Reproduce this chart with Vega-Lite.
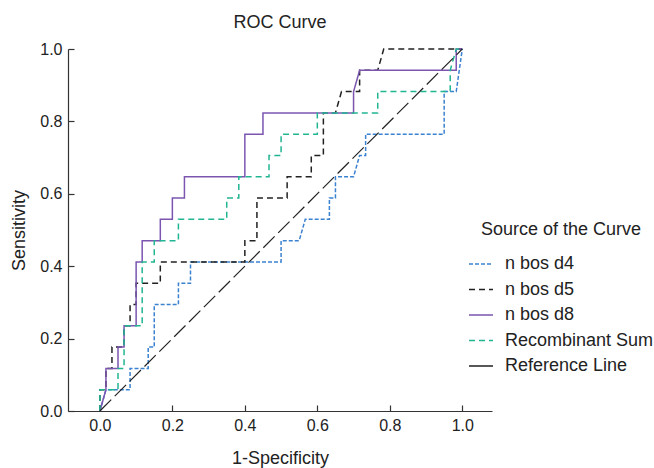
{
  "$schema": "https://vega.github.io/schema/vega-lite/v6.json",
  "width": 424,
  "height": 362,
  "autosize": "none",
  "padding": {"left": 68, "top": 49, "right": 162, "bottom": 57},
  "background": "white",
  "config": {
    "font": "Liberation Sans",
    "view": {"stroke": null},
    "axis": {"grid": false, "domainColor": "#333", "tickColor": "#333", "labelColor": "#222", "titleColor": "#222", "labelFontSize": 16, "titleFontSize": 18, "titleFontWeight": "normal", "tickSize": -6, "labelPadding": 12, "domainWidth": 1.2, "tickWidth": 1.2}
  },
  "title": {"text": "ROC Curve", "fontSize": 18, "fontWeight": "normal", "color": "#222", "anchor": "middle", "offset": 9},
  "layer": [
    {
      "data": {"values": [
        {"s":"n bos d4","i":0,"x":0,"y":0},{"s":"n bos d4","i":1,"x":0.0167,"y":0.0588},{"s":"n bos d4","i":2,"x":0.0833,"y":0.0588},{"s":"n bos d4","i":3,"x":0.0833,"y":0.1176},{"s":"n bos d4","i":4,"x":0.1333,"y":0.1176},{"s":"n bos d4","i":5,"x":0.1333,"y":0.1765},{"s":"n bos d4","i":6,"x":0.15,"y":0.1765},{"s":"n bos d4","i":7,"x":0.15,"y":0.2941},{"s":"n bos d4","i":8,"x":0.2167,"y":0.2941},{"s":"n bos d4","i":9,"x":0.2167,"y":0.3529},{"s":"n bos d4","i":10,"x":0.25,"y":0.3529},{"s":"n bos d4","i":11,"x":0.25,"y":0.4118},{"s":"n bos d4","i":12,"x":0.5,"y":0.4118},{"s":"n bos d4","i":13,"x":0.5,"y":0.4706},{"s":"n bos d4","i":14,"x":0.55,"y":0.4706},{"s":"n bos d4","i":15,"x":0.5667,"y":0.5294},{"s":"n bos d4","i":16,"x":0.6333,"y":0.5294},{"s":"n bos d4","i":17,"x":0.6333,"y":0.5882},{"s":"n bos d4","i":18,"x":0.65,"y":0.5882},{"s":"n bos d4","i":19,"x":0.65,"y":0.6471},{"s":"n bos d4","i":20,"x":0.7,"y":0.6471},{"s":"n bos d4","i":21,"x":0.7167,"y":0.7059},{"s":"n bos d4","i":22,"x":0.7333,"y":0.7059},{"s":"n bos d4","i":23,"x":0.7333,"y":0.7647},{"s":"n bos d4","i":24,"x":0.95,"y":0.7647},{"s":"n bos d4","i":25,"x":0.95,"y":0.8824},{"s":"n bos d4","i":26,"x":0.9833,"y":0.8824},{"s":"n bos d4","i":27,"x":1,"y":1},
        {"s":"n bos d5","i":0,"x":0,"y":0},{"s":"n bos d5","i":1,"x":0,"y":0.0588},{"s":"n bos d5","i":2,"x":0.0167,"y":0.0588},{"s":"n bos d5","i":3,"x":0.0167,"y":0.1176},{"s":"n bos d5","i":4,"x":0.0333,"y":0.1176},{"s":"n bos d5","i":5,"x":0.0333,"y":0.1765},{"s":"n bos d5","i":6,"x":0.0667,"y":0.1765},{"s":"n bos d5","i":7,"x":0.0667,"y":0.2353},{"s":"n bos d5","i":8,"x":0.0833,"y":0.2353},{"s":"n bos d5","i":9,"x":0.0833,"y":0.2941},{"s":"n bos d5","i":10,"x":0.1,"y":0.2941},{"s":"n bos d5","i":11,"x":0.1,"y":0.3529},{"s":"n bos d5","i":12,"x":0.1667,"y":0.3529},{"s":"n bos d5","i":13,"x":0.1667,"y":0.4118},{"s":"n bos d5","i":14,"x":0.4,"y":0.4118},{"s":"n bos d5","i":15,"x":0.4,"y":0.4706},{"s":"n bos d5","i":16,"x":0.4333,"y":0.4706},{"s":"n bos d5","i":17,"x":0.4333,"y":0.5882},{"s":"n bos d5","i":18,"x":0.5167,"y":0.5882},{"s":"n bos d5","i":19,"x":0.5167,"y":0.6471},{"s":"n bos d5","i":20,"x":0.5833,"y":0.6471},{"s":"n bos d5","i":21,"x":0.5833,"y":0.7059},{"s":"n bos d5","i":22,"x":0.6167,"y":0.7059},{"s":"n bos d5","i":23,"x":0.6167,"y":0.8235},{"s":"n bos d5","i":24,"x":0.65,"y":0.8235},{"s":"n bos d5","i":25,"x":0.6667,"y":0.8824},{"s":"n bos d5","i":26,"x":0.7167,"y":0.8824},{"s":"n bos d5","i":27,"x":0.7167,"y":0.9412},{"s":"n bos d5","i":28,"x":0.7667,"y":0.9412},{"s":"n bos d5","i":29,"x":0.7833,"y":1},{"s":"n bos d5","i":30,"x":1,"y":1},
        {"s":"n bos d8","i":0,"x":0,"y":0},{"s":"n bos d8","i":1,"x":0.0167,"y":0.0588},{"s":"n bos d8","i":2,"x":0.0167,"y":0.1176},{"s":"n bos d8","i":3,"x":0.05,"y":0.1176},{"s":"n bos d8","i":4,"x":0.05,"y":0.1765},{"s":"n bos d8","i":5,"x":0.0667,"y":0.1765},{"s":"n bos d8","i":6,"x":0.0667,"y":0.2353},{"s":"n bos d8","i":7,"x":0.1,"y":0.2353},{"s":"n bos d8","i":8,"x":0.1,"y":0.4118},{"s":"n bos d8","i":9,"x":0.1167,"y":0.4118},{"s":"n bos d8","i":10,"x":0.1167,"y":0.4706},{"s":"n bos d8","i":11,"x":0.1667,"y":0.4706},{"s":"n bos d8","i":12,"x":0.1667,"y":0.5294},{"s":"n bos d8","i":13,"x":0.2,"y":0.5294},{"s":"n bos d8","i":14,"x":0.2,"y":0.5882},{"s":"n bos d8","i":15,"x":0.2333,"y":0.5882},{"s":"n bos d8","i":16,"x":0.2333,"y":0.6471},{"s":"n bos d8","i":17,"x":0.4,"y":0.6471},{"s":"n bos d8","i":18,"x":0.4,"y":0.7647},{"s":"n bos d8","i":19,"x":0.45,"y":0.7647},{"s":"n bos d8","i":20,"x":0.45,"y":0.8235},{"s":"n bos d8","i":21,"x":0.7,"y":0.8235},{"s":"n bos d8","i":22,"x":0.7,"y":0.8824},{"s":"n bos d8","i":23,"x":0.7167,"y":0.9412},{"s":"n bos d8","i":24,"x":0.9833,"y":0.9412},{"s":"n bos d8","i":25,"x":0.9833,"y":1},{"s":"n bos d8","i":26,"x":1,"y":1},
        {"s":"Recombinant Sum","i":0,"x":0,"y":0},{"s":"Recombinant Sum","i":1,"x":0,"y":0.0588},{"s":"Recombinant Sum","i":2,"x":0.05,"y":0.0588},{"s":"Recombinant Sum","i":3,"x":0.05,"y":0.1176},{"s":"Recombinant Sum","i":4,"x":0.0667,"y":0.1176},{"s":"Recombinant Sum","i":5,"x":0.0667,"y":0.2353},{"s":"Recombinant Sum","i":6,"x":0.1167,"y":0.2353},{"s":"Recombinant Sum","i":7,"x":0.1167,"y":0.4118},{"s":"Recombinant Sum","i":8,"x":0.15,"y":0.4118},{"s":"Recombinant Sum","i":9,"x":0.15,"y":0.4706},{"s":"Recombinant Sum","i":10,"x":0.2167,"y":0.4706},{"s":"Recombinant Sum","i":11,"x":0.2167,"y":0.5294},{"s":"Recombinant Sum","i":12,"x":0.35,"y":0.5294},{"s":"Recombinant Sum","i":13,"x":0.35,"y":0.5882},{"s":"Recombinant Sum","i":14,"x":0.3833,"y":0.5882},{"s":"Recombinant Sum","i":15,"x":0.3833,"y":0.6471},{"s":"Recombinant Sum","i":16,"x":0.4667,"y":0.6471},{"s":"Recombinant Sum","i":17,"x":0.4667,"y":0.7059},{"s":"Recombinant Sum","i":18,"x":0.5,"y":0.7059},{"s":"Recombinant Sum","i":19,"x":0.5,"y":0.7647},{"s":"Recombinant Sum","i":20,"x":0.6,"y":0.7647},{"s":"Recombinant Sum","i":21,"x":0.6,"y":0.8235},{"s":"Recombinant Sum","i":22,"x":0.7667,"y":0.8235},{"s":"Recombinant Sum","i":23,"x":0.7667,"y":0.8824},{"s":"Recombinant Sum","i":24,"x":0.9667,"y":0.8824},{"s":"Recombinant Sum","i":25,"x":0.9667,"y":0.9412},{"s":"Recombinant Sum","i":26,"x":0.9833,"y":1},{"s":"Recombinant Sum","i":27,"x":1,"y":1}
      ]},
      "mark": {"type": "line", "strokeWidth": 1.5},
      "encoding": {
        "x": {"field": "x", "type": "quantitative", "scale": {"domain": [-0.088, 1.082], "nice": false, "zero": false}, "axis": {"values": [0, 0.2, 0.4, 0.6, 0.8, 1.0], "format": ".1f", "title": "1-Specificity", "titlePadding": 16}},
        "y": {"field": "y", "type": "quantitative", "scale": {"domain": [0, 1], "nice": false}, "axis": {"values": [0, 0.2, 0.4, 0.6, 0.8, 1.0], "format": ".1f", "title": "Sensitivity", "titlePadding": 11}},
        "order": {"field": "i", "type": "quantitative"},
        "color": {
          "field": "s", "type": "nominal",
          "scale": {"domain": ["n bos d4", "n bos d5", "n bos d8", "Recombinant Sum", "Reference Line"], "range": ["#3b82d0", "#222222", "#7b55b0", "#22b592", "#222222"]},
          "legend": {"title": "Source of the Curve", "orient": "none", "legendX": 400, "legendY": 172, "titleFontSize": 18, "titleFontWeight": "normal", "titleColor": "#222", "labelFontSize": 18, "labelColor": "#222", "titleAnchor": "middle", "titlePadding": 12, "symbolType": "stroke", "symbolSize": 576, "symbolStrokeWidth": 1.5, "rowPadding": 3.5, "labelOffset": 11, "padding": 0, "labelLimit": 300}
        },
        "strokeDash": {
          "field": "s", "type": "nominal",
          "scale": {"domain": ["n bos d4", "n bos d5", "n bos d8", "Recombinant Sum", "Reference Line"], "range": [[4, 2], [6, 4], [1, 0], [6, 4], [1, 0]]},
          "legend": {"title": "Source of the Curve"}
        }
      }
    },
    {
      "data": {"values": [{"x": 0, "y": 0}, {"x": 1, "y": 1}]},
      "mark": {"type": "line", "color": "#222222", "strokeWidth": 1.2, "strokeDash": [16, 5]},
      "encoding": {
        "x": {"field": "x", "type": "quantitative"},
        "y": {"field": "y", "type": "quantitative"}
      }
    }
  ]
}
